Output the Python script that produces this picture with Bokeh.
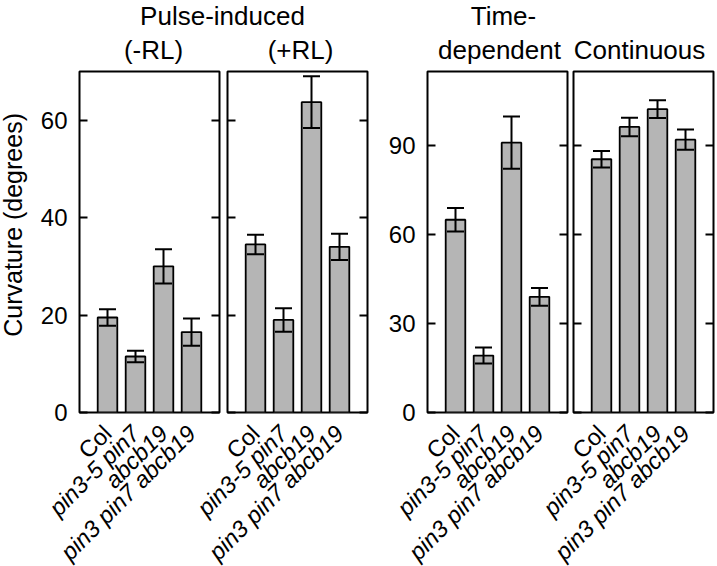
import math
from bokeh.plotting import figure
from bokeh.models import (ColumnDataSource, Range1d, LinearAxis, FixedTicker,
                          Whisker, TeeHead, Label)
from bokeh.layouts import column, row
from bokeh.embed import file_html
from bokeh.resources import INLINE
from bokeh.core.properties import field, value

# ---------------- data ----------------
genotypes = ["Col", "pin3-5 pin7", "abcb19", "pin3 pin7 abcb19"]
genotype_styles = ["normal", "italic", "italic", "italic"]

pulse_minus_rl = [19.5, 11.5, 30.0, 16.5]
pulse_minus_rl_err = [1.7, 1.2, 3.5, 2.8]
pulse_plus_rl = [34.5, 19.0, 63.7, 34.0]
pulse_plus_rl_err = [2.0, 2.4, 5.3, 2.7]
time_dependent = [65.0, 19.2, 91.0, 39.0]
time_dependent_err = [4.0, 2.7, 8.8, 3.0]
continuous = [85.4, 96.3, 102.3, 92.0]
continuous_err = [2.8, 3.1, 3.0, 3.4]

ticks_pulse = [0, 20, 40, 60]
ticks_time = [0, 30, 60, 90]
ymax_pulse = 70
ymax_time = 115

y_axis_title = "Curvature (degrees)"

# ---------------- style ----------------
FONT = "Liberation Sans"
BAR_FILL = "#b5b5b5"
PAGE_W, PAGE_H = 717, 566
FRAME_W = 140
FRAME_H = 341
X_SPAN = 5.0
TITLE_H = 69
TOP = 2
BOTTOM = 14
ROW_H = TOP + FRAME_H + BOTTOM
OVERLAP = 12               # label strip slides up under the panels' bottom border
LABEL_H = PAGE_H - TITLE_H - ROW_H + OVERLAP
LABEL_ANCHOR_Y = 15        # px below the top of the label strip
LABEL_X_OFFSET = 0
YLAB_W = 30

# (left border, right border) of each panel figure
borders = [(79 - YLAB_W, 4), (4, 4), (56, 3), (3, 4)]


def style_y_axis(ax, ticks, show_labels):
    ax.ticker = FixedTicker(ticks=ticks)
    ax.major_tick_in = 8
    ax.major_tick_out = 0
    ax.major_tick_line_width = 2
    ax.major_tick_line_color = "black"
    ax.minor_tick_line_color = None
    ax.axis_line_color = None
    if show_labels:
        ax.major_label_text_font = FONT
        ax.major_label_text_font_size = "24px"
        ax.major_label_text_color = "black"
        ax.major_label_standoff = 12
    else:
        ax.major_label_overrides = {t: "" for t in ticks}
        ax.major_label_text_font_size = "0px"
        ax.major_label_standoff = 0


def make_panel(vals, errs, ymax, ticks, left_labels, border_left, border_right):
    width = border_left + FRAME_W + border_right
    p = figure(width=width, height=ROW_H, output_backend="svg",
               toolbar_location=None, x_range=Range1d(0, X_SPAN),
               y_range=Range1d(0, ymax), x_axis_location=None,
               y_axis_location="left",
               min_border_left=border_left, min_border_right=border_right,
               min_border_top=TOP, min_border_bottom=BOTTOM)
    p.xgrid.visible = False
    p.ygrid.visible = False
    p.outline_line_color = "black"
    p.outline_line_width = 2
    p.background_fill_color = "white"
    p.border_fill_color = "white"

    style_y_axis(p.yaxis[0], ticks, left_labels)
    right = LinearAxis()
    style_y_axis(right, ticks, False)
    p.add_layout(right, "right")

    xs = [i + 1 for i in range(len(genotypes))]
    src = ColumnDataSource(dict(
        x=xs, top=vals,
        upper=[v + e for v, e in zip(vals, errs)],
        lower=[v - e for v, e in zip(vals, errs)],
    ))
    p.vbar(x="x", top="top", bottom=0, width=0.7, source=src,
           fill_color=BAR_FILL, line_color="black", line_width=1.8)
    w = Whisker(base="x", upper="upper", lower="lower", source=src,
                line_width=2, line_color="black",
                upper_head=TeeHead(size=17, line_width=2, line_color="black"),
                lower_head=TeeHead(size=17, line_width=2, line_color="black"))
    w.level = "overlay"
    p.add_layout(w)
    return p


def blank(width, height, xr, yr):
    f = figure(width=width, height=height, output_backend="svg",
               toolbar_location=None, x_range=xr, y_range=yr,
               x_axis_location=None, y_axis_location=None, min_border=0)
    f.xgrid.visible = False
    f.ygrid.visible = False
    f.outline_line_color = None
    return f


panel_data = [
    (pulse_minus_rl, pulse_minus_rl_err, ymax_pulse, ticks_pulse, True),
    (pulse_plus_rl, pulse_plus_rl_err, ymax_pulse, ticks_pulse, False),
    (time_dependent, time_dependent_err, ymax_time, ticks_time, True),
    (continuous, continuous_err, ymax_time, ticks_time, False),
]
panels = []
frame_lefts = []
x0 = YLAB_W
for (vals, errs, ymax, ticks, lab), (bl, br) in zip(panel_data, borders):
    panels.append(make_panel(vals, errs, ymax, ticks, lab, bl, br))
    frame_lefts.append(x0 + bl)
    x0 += bl + FRAME_W + br

# ---------- y-axis title strip ----------
ylab = blank(YLAB_W, ROW_H, Range1d(0, YLAB_W), Range1d(ROW_H, 0))
ylab.add_layout(Label(x=12.5, y=TOP + FRAME_H * 0.465, text=y_axis_title,
                      angle=math.pi / 2, text_align="center",
                      text_baseline="middle", text_font=FONT,
                      text_font_size="25px", text_color="black"))

# ---------- genotype labels: one strip below all panels ----------
px_per_unit = FRAME_W / X_SPAN
lab = blank(PAGE_W, LABEL_H, Range1d(0, PAGE_W), Range1d(LABEL_H, 0))
lab.background_fill_color = None
lab.border_fill_color = None
lab.margin = (-OVERLAP, 0, 0, 0)
for k, left in enumerate(frame_lefts):
    name = "panel%d" % k
    # same horizontal scale as the panel above it
    lab.extra_x_ranges[name] = Range1d(-left / px_per_unit,
                                       (PAGE_W - left) / px_per_unit)
    src = ColumnDataSource(dict(
        x=[i + 1 for i in range(len(genotypes))],
        name=genotypes, style=genotype_styles,
    ))
    lab.text(x="x", y=LABEL_ANCHOR_Y, text="name", source=src,
             x_range_name=name, angle=math.pi / 4, x_offset=LABEL_X_OFFSET,
             text_align="right", text_baseline="middle",
             text_font=value(FONT), text_font_size="23.5px",
             text_font_style=field("style"), text_color="black")

# ---------- panel titles ----------
t = blank(PAGE_W, TITLE_H, Range1d(0, PAGE_W), Range1d(TITLE_H, 0))
panel_titles = [
    ("Pulse-induced", 222, 15),
    ("(-RL)", 153, 49),
    ("(+RL)", 300, 49),
    ("Time-", 503, 15),
    ("dependent", 499, 49),
    ("Continuous", 639, 49),
]
for txt, x, y in panel_titles:
    t.add_layout(Label(x=x, y=y, text=txt, text_align="center",
                       text_baseline="middle", text_font=FONT,
                       text_font_size="26px", text_color="black"))

layout = column(t, row(ylab, *panels), lab)
open("out.html", "w").write(file_html(layout, INLINE))
